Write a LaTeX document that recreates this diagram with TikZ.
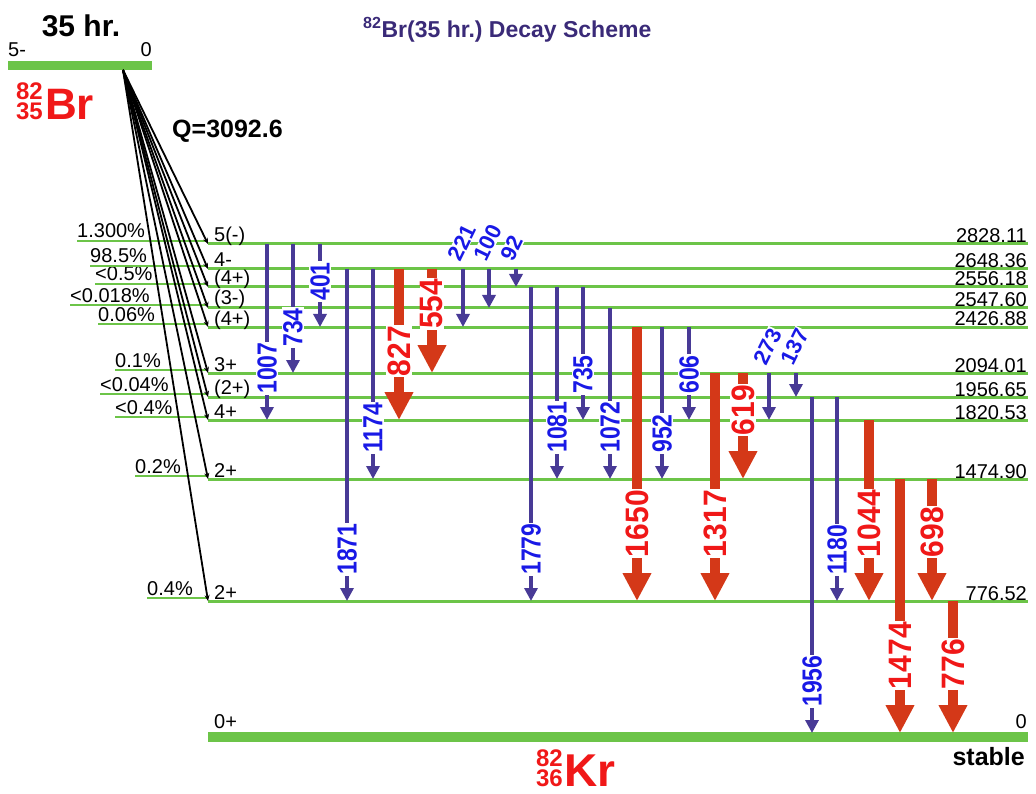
\documentclass[tikz,border=0pt]{standalone}
\usepackage{fontspec}
\setmainfont{Liberation Sans}
\usepackage{xcolor}
\usepackage{tikz}
\usetikzlibrary{arrows.meta}
\definecolor{lvlgreen}{RGB}{108,196,72}
\definecolor{gblue}{RGB}{72,58,150}
\definecolor{tblue}{RGB}{25,25,230}
\definecolor{gred}{RGB}{212,56,24}
\definecolor{tred}{RGB}{240,24,24}
\definecolor{ttl}{RGB}{58,42,120}

\begin{document}
\frenchspacing
\begin{tikzpicture}[x=1pt, y=-1pt,
  lvl/.style={draw=lvlgreen, line width=3pt},
  gnd/.style={draw=lvlgreen, line width=10pt},
  feed/.style={draw=lvlgreen, line width=2.5pt},
  beta/.style={-{Stealth[length=6pt,width=5pt]}, line width=1.8pt},
  gw/.style={draw=gblue, line width=4.5pt, -{Triangle[length=13pt,width=13pt]}},
  gs/.style={draw=gred, line width=10pt, -{Triangle[length=28pt,width=27pt]}},
  wtxt/.style={xscale=1.2, rotate=90, anchor=west, fill=white, inner sep=1pt, text=tblue,
               font=\fontsize{23}{23}\selectfont\bfseries},
  stxt/.style={xscale=1.08, rotate=90, anchor=west, fill=white, inner sep=1pt, text=tred,
               font=\fontsize{30}{30}\selectfont\bfseries},
  ttxt/.style={rotate=64, anchor=south west, fill=white, inner sep=0.5pt, text=tblue,
               font=\fontsize{22}{22}\selectfont\bfseries},
  small/.style={inner sep=0pt, font=\fontsize{20}{22}\selectfont},
  spin/.style={small, anchor=base west},
  enrg/.style={small, anchor=base east},
  pct/.style={small, anchor=base west},
  iso/.style={inner sep=0pt, text=tred, font=\fontsize{24}{24}\selectfont\bfseries, anchor=base east},
  nucl/.style={inner sep=0pt, text=tred, font=\fontsize{46}{46}\selectfont\bfseries, anchor=base west},
  hdr/.style={inner sep=0pt, font=\fontsize{25}{25}\selectfont\bfseries}
]
  \useasboundingbox (0,0) rectangle (1036,794);

  % title
  \node[hdr, text=ttl, font=\fontsize{23}{23}\selectfont\bfseries, anchor=base west] (title) at (363,38)
       {\textsuperscript{82}Br(35 hr.) Decay Scheme};

  % parent
  \coordinate (P0) at (8,66);
  \coordinate (P) at (123,70);
  \draw[line width=9pt, draw=lvlgreen] (P0) -- ++(144,0);
  \node[hdr, font=\fontsize{30}{30}\selectfont\bfseries, anchor=base] (life) at (81,37) {35 hr.};
  \node[small, anchor=base west] (pspin) at (8,57) {5-};
  \node[small, anchor=base east] (pen) at (152,57) {0};
  \node[iso] (brA) at (43,100) {82};
  \node[iso] (brZ) at (43,120) {35};
  \node[nucl, font=\fontsize{44}{44}\selectfont\bfseries] (br) at (45,120) {Br};
  \node[hdr, anchor=base west] (qval) at (172,138) {Q=3092.6};

  % levels
  \coordinate (L2828) at (208,244);
  \coordinate (L2648) at (208,269);
  \coordinate (L2556) at (208,287);
  \coordinate (L2547) at (208,308);
  \coordinate (L2426) at (208,327);
  \coordinate (L2094) at (208,373);
  \coordinate (L1956) at (208,397);
  \coordinate (L1820) at (208,420);
  \coordinate (L1474) at (208,479);
  \coordinate (L776) at (208,601);
  \coordinate (L0) at (208,733);
  \draw[lvl] (L2828) -- ++(820,0);
  \draw[lvl] (L2648) -- ++(820,0);
  \draw[lvl] (L2556) -- ++(820,0);
  \draw[lvl] (L2547) -- ++(820,0);
  \draw[lvl] (L2426) -- ++(820,0);
  \draw[lvl] (L2094) -- ++(820,0);
  \draw[lvl] (L1956) -- ++(820,0);
  \draw[lvl] (L1820) -- ++(820,0);
  \draw[lvl] (L1474) -- ++(820,0);
  \draw[lvl] (L776) -- ++(820,0);
  \draw[gnd] ([yshift=-4pt]L0) -- ++(820,0);

  \node[spin] (s2828) at (214,242) {5(-)};
  \node[spin] (s2648) at (214,267) {4-};
  \node[spin] (s2556) at (214,285) {(4+)};
  \node[spin] (s2547) at (214,305) {(3-)};
  \node[spin] (s2426) at (214,325) {(4+)};
  \node[spin] (s2094) at (214,371) {3+};
  \node[spin] (s1956) at (214,394) {(2+)};
  \node[spin] (s1820) at (214,418) {4+};
  \node[spin] (s1474) at (214,477) {2+};
  \node[spin] (s776) at (214,599) {2+};
  \node[spin] (s0) at (214,728) {0+};

  \node[enrg] (e2828) at (1027,243) {2828.11};
  \node[enrg] (e2648) at (1027,268) {2648.36};
  \node[enrg] (e2556) at (1027,286) {2556.18};
  \node[enrg] (e2547) at (1027,307) {2547.60};
  \node[enrg] (e2426) at (1027,326) {2426.88};
  \node[enrg] (e2094) at (1027,372) {2094.01};
  \node[enrg] (e1956) at (1027,396) {1956.65};
  \node[enrg] (e1820) at (1027,419) {1820.53};
  \node[enrg] (e1474) at (1027,478) {1474.90};
  \node[enrg] (e776) at (1027,600) {776.52};
  \node[enrg] (e0) at (1027,728) {0};
  \node[hdr, anchor=base east] (stab) at (1025,765) {stable};
  \node[iso] (krA) at (563,766) {82};
  \node[iso] (krZ) at (563,786) {36};
  \node[nucl] (kr) at (564,786) {Kr};

  % beta feeding
  \node[pct] (p2828) at (77,238) {1.300\%};
  \node[pct] (p2648) at (90,263) {98.5\%};
  \node[pct] (p2556) at (95,281) {<0.5\%};
  \node[pct] (p2547) at (70,302) {<0.018\%};
  \node[pct] (p2426) at (98,321) {0.06\%};
  \node[pct] (p2094) at (115,367) {0.1\%};
  \node[pct] (p1956) at (100,391) {<0.04\%};
  \node[pct] (p1820) at (115,414) {<0.4\%};
  \node[pct] (p1474) at (135,473) {0.2\%};
  \node[pct] (p776) at (147,595) {0.4\%};
  \draw[feed] ([yshift=-3pt]p2828.base west) -- ([yshift=3pt]L2828);
  \draw[feed] ([yshift=-3pt]p2648.base west) -- ([yshift=3pt]L2648);
  \draw[feed] ([yshift=-3pt]p2556.base west) -- ([yshift=3pt]L2556);
  \draw[feed] ([yshift=-3pt]p2547.base west) -- ([yshift=3pt]L2547);
  \draw[feed] ([yshift=-3pt]p2426.base west) -- ([yshift=3pt]L2426);
  \draw[feed] ([yshift=-3pt]p2094.base west) -- ([yshift=3pt]L2094);
  \draw[feed] ([yshift=-3pt]p1956.base west) -- ([yshift=3pt]L1956);
  \draw[feed] ([yshift=-3pt]p1820.base west) -- ([yshift=3pt]L1820);
  \draw[feed] ([yshift=-3pt]p1474.base west) -- ([yshift=3pt]L1474);
  \draw[feed] ([yshift=-3pt]p776.base west) -- ([yshift=3pt]L776);
  \draw[beta] (P) -- (L2828);
  \draw[beta] (P) -- (L2648);
  \draw[beta] (P) -- (L2556);
  \draw[beta] (P) -- (L2547);
  \draw[beta] (P) -- (L2426);
  \draw[beta] (P) -- (L2094);
  \draw[beta] (P) -- (L1956);
  \draw[beta] (P) -- (L1820);
  \draw[beta] (P) -- (L1474);
  \draw[beta] (P) -- (L776);

  % gamma transitions
  \draw[gw] (267,0 |- L2828) -- (267,0 |- L1820) node[at end, yshift=23pt, wtxt] (g1007) {1007};
  \draw[gw] (293,0 |- L2828) -- (293,0 |- L2094) node[at end, yshift=23pt, wtxt] (g734) {734};
  \draw[gw] (320,0 |- L2828) -- (320,0 |- L2426) node[at end, yshift=23pt, wtxt] (g401) {401};
  \draw[gw] (347,0 |- L2648) -- (347,0 |- L776) node[at end, yshift=23pt, wtxt] (g1871) {1871};
  \draw[gw] (373,0 |- L2648) -- (373,0 |- L1474) node[at end, yshift=23pt, wtxt] (g1174) {1174};
  \draw[gs] (399,0 |- L2648) -- (399,0 |- L1820) node[at end, yshift=38pt, stxt] (g827) {827};
  \draw[gs] (432,0 |- L2648) -- (432,0 |- L2094) node[at end, yshift=38pt, stxt] (g554) {554};
  \draw[gw] (463,0 |- L2648) -- (463,0 |- L2426) node[at start, xshift=-1pt, yshift=3pt, ttxt] (g221) {221};
  \draw[gw] (489,0 |- L2648) -- (489,0 |- L2547) node[at start, xshift=-1pt, yshift=3pt, ttxt] (g100) {100};
  \draw[gw] (516,0 |- L2648) -- (516,0 |- L2556) node[at start, xshift=-1pt, yshift=3pt, ttxt] (g92) {92};
  \draw[gw] (531,0 |- L2556) -- (531,0 |- L776) node[at end, yshift=23pt, wtxt] (g1779) {1779};
  \draw[gw] (557,0 |- L2556) -- (557,0 |- L1474) node[at end, yshift=23pt, wtxt] (g1081) {1081};
  \draw[gw] (583,0 |- L2556) -- (583,0 |- L1820) node[at end, yshift=23pt, wtxt] (g735) {735};
  \draw[gw] (610,0 |- L2547) -- (610,0 |- L1474) node[at end, yshift=23pt, wtxt] (g1072) {1072};
  \draw[gs] (637,0 |- L2426) -- (637,0 |- L776) node[at end, yshift=38pt, stxt] (g1650) {1650};
  \draw[gw] (662,0 |- L2426) -- (662,0 |- L1474) node[at end, yshift=23pt, wtxt] (g952) {952};
  \draw[gw] (689,0 |- L2426) -- (689,0 |- L1820) node[at end, yshift=23pt, wtxt] (g606) {606};
  \draw[gs] (715,0 |- L2094) -- (715,0 |- L776) node[at end, yshift=38pt, stxt] (g1317) {1317};
  \draw[gs] (743,0 |- L2094) -- (743,0 |- L1474) node[at end, yshift=38pt, stxt] (g619) {619};
  \draw[gw] (769,0 |- L2094) -- (769,0 |- L1820) node[at start, xshift=-1pt, yshift=3pt, ttxt] (g273) {273};
  \draw[gw] (796,0 |- L2094) -- (796,0 |- L1956) node[at start, xshift=-1pt, yshift=3pt, ttxt] (g137) {137};
  \draw[gw] (812,0 |- L1956) -- (812,0 |- L0) node[at end, yshift=23pt, wtxt] (g1956) {1956};
  \draw[gw] (837,0 |- L1956) -- (837,0 |- L776) node[at end, yshift=23pt, wtxt] (g1180) {1180};
  \draw[gs] (869,0 |- L1820) -- (869,0 |- L776) node[at end, yshift=38pt, stxt] (g1044) {1044};
  \draw[gs] (900,0 |- L1474) -- (900,0 |- L0) node[at end, yshift=38pt, stxt] (g1474) {1474};
  \draw[gs] (932,0 |- L1474) -- (932,0 |- L776) node[at end, yshift=38pt, stxt] (g698) {698};
  \draw[gs] (953,0 |- L776) -- (953,0 |- L0) node[at end, yshift=38pt, stxt] (g776) {776};
\end{tikzpicture}
\end{document}
